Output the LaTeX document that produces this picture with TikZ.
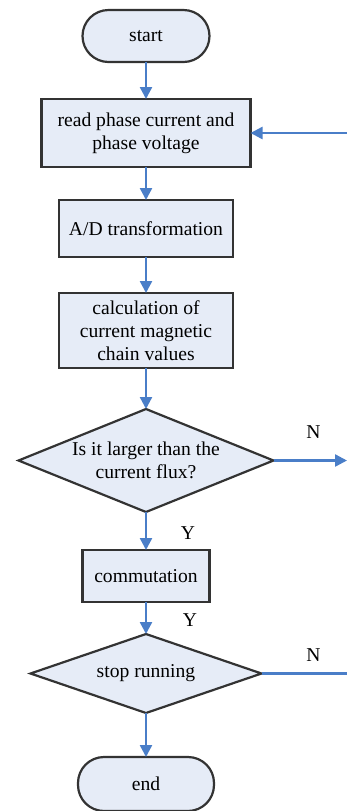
\documentclass[tikz,border=0pt]{standalone}
\usepackage{fontspec}
\setmainfont{Liberation Serif}
\usepackage{tikz}
\usetikzlibrary{shapes.geometric}
\usetikzlibrary{arrows.meta}
\usetikzlibrary{positioning}
\usepackage{xcolor}
\definecolor{tikz-fill}{HTML}{E6ECF7}
\definecolor{tikz-line}{HTML}{4A7EC8}
\definecolor{tikz-block}{HTML}{333333}
\tikzset{node distance=18pt, every text node part/.style={align=center, font={\fontsize{9.8}{11.6}\selectfont}}}
\tikzstyle{block} = [draw=tikz-block, fill=tikz-fill, rectangle, inner sep=0pt, outer sep=0pt, line width=1.1pt]
\tikzstyle{term} = [block, rounded corners=13pt, minimum width=63.5pt, minimum height=26pt]
\tikzstyle{cond} = [block, diamond, aspect=2.5]
\tikzstyle{ln} = [draw=tikz-line, line width=1.2pt, -{Triangle[width=6pt,length=6pt]}]
\tikzstyle{yn} = [inner sep=0pt]

\begin{document}
\begin{tikzpicture}
      \useasboundingbox (0,0) rectangle (173.5pt,-405.5pt);
      \node[term] (st) at (73pt,-18pt) {start};
      \node[block, minimum width=104.5pt, minimum height=34pt, below=18.5pt of st] (rd) {read phase current and\\phase voltage};
      \node[block, minimum width=87pt, minimum height=28.5pt, below=16.5pt of rd] (ad) {A/D transformation};
      \node[block, minimum width=87pt, minimum height=37.5pt, below=18pt of ad] (cl) {calculation of\\current magnetic\\chain values};
      \node[cond, minimum width=127.5pt, minimum height=51.5pt, below=20.5pt of cl] (d1) {Is it larger than the\\current flux?};
      \node[block, minimum width=63.5pt, minimum height=26pt, below=19pt of d1] (cm) {commutation};
      \node[cond, minimum width=115.5pt, minimum height=39.5pt, below=16pt of cm] (d2) {stop running};
      \node[term, minimum width=68pt, minimum height=27pt, below=22pt of d2] (en) {end};
      % loose ends on the right margin
      \coordinate (rim) at (173.5pt,0);
      \coordinate (fb) at (rd -| rim);
      \coordinate (n1) at (d1 -| rim);
      \coordinate (n2) at (d2 -| rim);
      \node[yn] (n1lbl) at ([shift={(20pt,14pt)}]d1.east) {N};
      \node[yn] (y1lbl) at ([shift={(21pt,-10.5pt)}]d1.south) {Y};
      \node[yn] (y2lbl) at ([shift={(22pt,-9pt)}]cm.south) {Y};
      \node[yn] (n2lbl) at ([shift={(26pt,9pt)}]d2.east) {N};
      \draw[ln] (st) -- (rd);
      \draw[ln] (rd) -- (ad);
      \draw[ln] (ad) -- (cl);
      \draw[ln] (cl) -- (d1);
      \draw[ln] (d1) -- (cm);
      \draw[ln] (cm) -- (d2);
      \draw[ln] (d2) -- (en);
      \draw[ln] (fb) -- (rd);
      \draw[ln] (d1) -- (n1);
      \draw[ln, -] (d2) -- (n2);
    \end{tikzpicture}
\end{document}
